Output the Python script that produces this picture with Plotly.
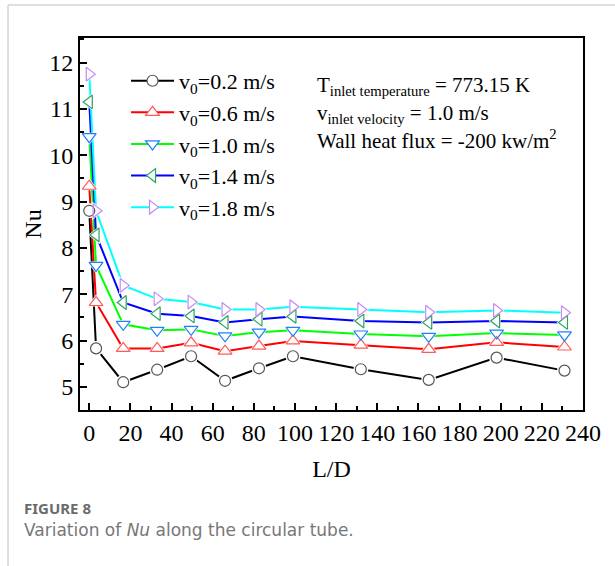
import plotly.graph_objects as go

# Axial positions (L/D) of the sampling stations
ld = [0, 3.3, 16.5, 33, 49.5, 66, 82.5, 99, 132, 165, 198, 231]

# Local Nusselt number for each inlet velocity
nu_02 = [8.80, 5.83, 5.10, 5.37, 5.66, 5.13, 5.40, 5.66, 5.38, 5.15, 5.63, 5.35]
nu_06 = [9.33, 6.82, 5.83, 5.83, 5.95, 5.77, 5.88, 5.99, 5.90, 5.81, 5.96, 5.86]
nu_10 = [10.40, 7.62, 6.35, 6.22, 6.24, 6.10, 6.18, 6.22, 6.14, 6.09, 6.16, 6.12]
nu_14 = [11.15, 8.28, 6.82, 6.58, 6.53, 6.39, 6.46, 6.52, 6.42, 6.39, 6.42, 6.39]
nu_18 = [11.75, 8.80, 7.19, 6.90, 6.83, 6.67, 6.67, 6.73, 6.67, 6.61, 6.65, 6.60]

series_names = ["v<sub>0</sub>=0.2 m/s", "v<sub>0</sub>=0.6 m/s", "v<sub>0</sub>=1.0 m/s",
                "v<sub>0</sub>=1.4 m/s", "v<sub>0</sub>=1.8 m/s"]
series_values = [nu_02, nu_06, nu_10, nu_14, nu_18]

line_colors = ["#000000", "#ff0000", "#00ff00", "#0000ff", "#00ffff"]
marker_colors = ["#555555", "#ff5a5a", "#1e7fff", "#2aa35f", "#c58af0"]
symbols = ["circle", "triangle-up", "triangle-down", "triangle-left", "triangle-right"]
sizes = [11, 12, 12, 12, 12]

x_ticks = list(range(0, 241, 20))
y_ticks = list(range(5, 13))

SERIF = "Liberation Serif, Times New Roman, serif"

fig = go.Figure()

# connecting lines
for vals, lc in zip(series_values, line_colors):
    fig.add_trace(go.Scatter(x=ld, y=vals, mode="lines",
                             line=dict(color=lc, width=2),
                             showlegend=False, hoverinfo="skip"))

# white halos so the lines stop short of each symbol
for vals, sym, sz in zip(series_values, symbols, sizes):
    fig.add_trace(go.Scatter(x=ld, y=vals, mode="markers",
                             marker=dict(symbol=sym, size=sz + 4, color="white",
                                         line=dict(width=0)),
                             showlegend=False, hoverinfo="skip"))

# hollow symbols on top
for name, vals, mc, sym, sz in zip(series_names, series_values, marker_colors, symbols, sizes):
    fig.add_trace(go.Scatter(x=ld, y=vals, mode="markers", name=name,
                             marker=dict(symbol=sym + "-open", size=sz, color=mc,
                                         line=dict(width=1.2)),
                             showlegend=False))

# legend entries (line + symbol)
for name, lc, mc, sym, sz in zip(series_names, line_colors, marker_colors, symbols, sizes):
    fig.add_trace(go.Scatter(x=[None], y=[None], mode="lines+markers", name=name,
                             line=dict(color=lc, width=2),
                             marker=dict(symbol=sym, size=sz, color="white",
                                         line=dict(color=mc, width=1.2))))

axis_common = dict(
    showline=True, linewidth=2, linecolor="black", mirror=True,
    ticks="inside", ticklen=7, tickwidth=2, tickcolor="black",
    showgrid=False, zeroline=False,
    tickfont=dict(family=SERIF, size=24, color="black"),
)

fig.update_xaxes(range=[-4.5, 240], tickvals=x_ticks,
                 minor=dict(ticks="inside", ticklen=4, tickwidth=2, tickcolor="black",
                            dtick=10, tick0=0, showgrid=False),
                 title=dict(text="L/D", font=dict(family=SERIF, size=24, color="black"),
                            standoff=15),
                 **axis_common)
fig.update_yaxes(range=[4.5, 12.53], tickvals=y_ticks,
                 minor=dict(ticks="inside", ticklen=4, tickwidth=2, tickcolor="black",
                            dtick=0.5, tick0=0, showgrid=False),
                 title=dict(text="Nu", font=dict(family=SERIF, size=24, color="black"),
                            standoff=1),
                 **axis_common)

# operating conditions
cond_lines = [
    ("T<sub>inlet temperature</sub> = 773.15 K", 0.872),
    ("v<sub>inlet velocity</sub> = 1.0 m/s", 0.796),
    ("Wall heat flux = -200 kw/m<sup>2</sup>", 0.728),
]
for txt, yy in cond_lines:
    fig.add_annotation(text=txt, xref="paper", yref="paper", x=0.467, y=yy,
                       xanchor="left", yanchor="middle", showarrow=False,
                       font=dict(family=SERIF, size=21, color="black"))

# caption
fig.add_annotation(text="<b>FIGURE 8</b>", xref="paper", yref="paper",
                   x=-0.1153, y=-0.2634, xanchor="left", yanchor="middle",
                   showarrow=False, font=dict(family="Noto Sans, sans-serif", size=15,
                                              color="#6b6b6b"))
fig.add_annotation(text="Variation of <i>Nu</i> along the circular tube.",
                   xref="paper", yref="paper", x=-0.1153, y=-0.3226,
                   xanchor="left", yanchor="middle", showarrow=False,
                   font=dict(family="DejaVu Sans, sans-serif", size=17, color="#777777"))

# card border (left and top edges)
fig.add_shape(type="line", xref="paper", yref="paper", x0=-0.1431, x1=-0.1431,
              y0=1.0887, y1=-0.45, line=dict(color="#d4d4d4", width=1.5))
fig.add_shape(type="line", xref="paper", yref="paper", x0=-0.1431, x1=1.1,
              y0=1.0887, y1=1.0887, line=dict(color="#d4d4d4", width=1.5))

fig.update_layout(
    width=615, height=566,
    margin=dict(l=80, r=32, t=38, b=156),
    paper_bgcolor="white", plot_bgcolor="white",
    legend=dict(x=0.0915, y=0.941, xanchor="left", yanchor="top",
                bgcolor="rgba(0,0,0,0)", itemwidth=43,
                font=dict(family=SERIF, size=22, color="black")),
    showlegend=True,
)

fig.write_html("out.html")
